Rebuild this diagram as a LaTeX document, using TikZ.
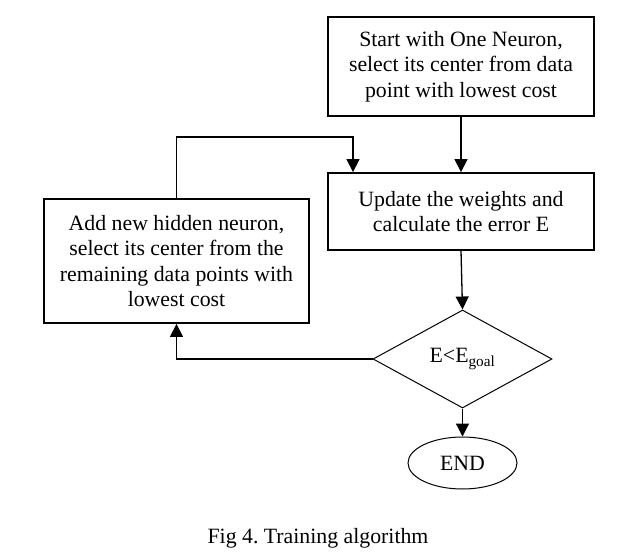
\documentclass[tikz,border=0pt]{standalone}
\usepackage{fontspec}
\setmainfont{Liberation Serif}
\usetikzlibrary{shapes.geometric,arrows.meta}
\tikzset{
  boxnode/.style={draw, line width=1.8bp, align=center, inner sep=0pt},
  thinshape/.style={draw, line width=1bp, inner sep=0pt},
  conn/.style={line width=1.3bp},
  arr/.style={conn, -{Triangle[length=13bp,width=13bp]}},
}
\frenchspacing
\begin{document}
\begin{tikzpicture}[x=1bp,y=-1bp,font=\fontsize{21.8bp}{25.3bp}\selectfont\frenchspacing]
\useasboundingbox (0,0) rectangle (625,552);
\node[boxnode, minimum width=266bp, minimum height=99bp] (start) at (461,66.5)
  {Start with One Neuron,\\select its center from data\\point with lowest cost};
\node[boxnode, minimum width=266bp, minimum height=77bp] (update) at (461,211.5)
  {Update the weights and\\calculate the error E};
\node[boxnode, minimum width=265bp, minimum height=124bp] (add) at (176.5,261)
  {Add new hidden neuron,\\select its center from the\\remaining data points with\\lowest cost};
\node[thinshape, diamond, minimum width=179bp, minimum height=98bp] (dec) at (462.5,359)
  {E<E\textsubscript{goal}};
\node[thinshape, ellipse, minimum width=109bp, minimum height=52bp] (end) at (462.5,463) {END};
\node[anchor=base] (cap) at (318,543) {Fig 4. Training algorithm};
\coordinate (c1) at (176.5,137);
\coordinate (c2) at (353,137);
\coordinate (c3) at (176.5,359);
\draw[arr] (start.south) -- (update.north);
\draw[arr] (update.south) -- (dec.north);
\draw[arr] (dec.south) -- (end.north);
\draw[arr] (add.north) -- (c1) -- (c2) -- (c2 |- update.north);
\draw[arr] (dec.west) -- (c3) -- (add.south);
\end{tikzpicture}
\end{document}
